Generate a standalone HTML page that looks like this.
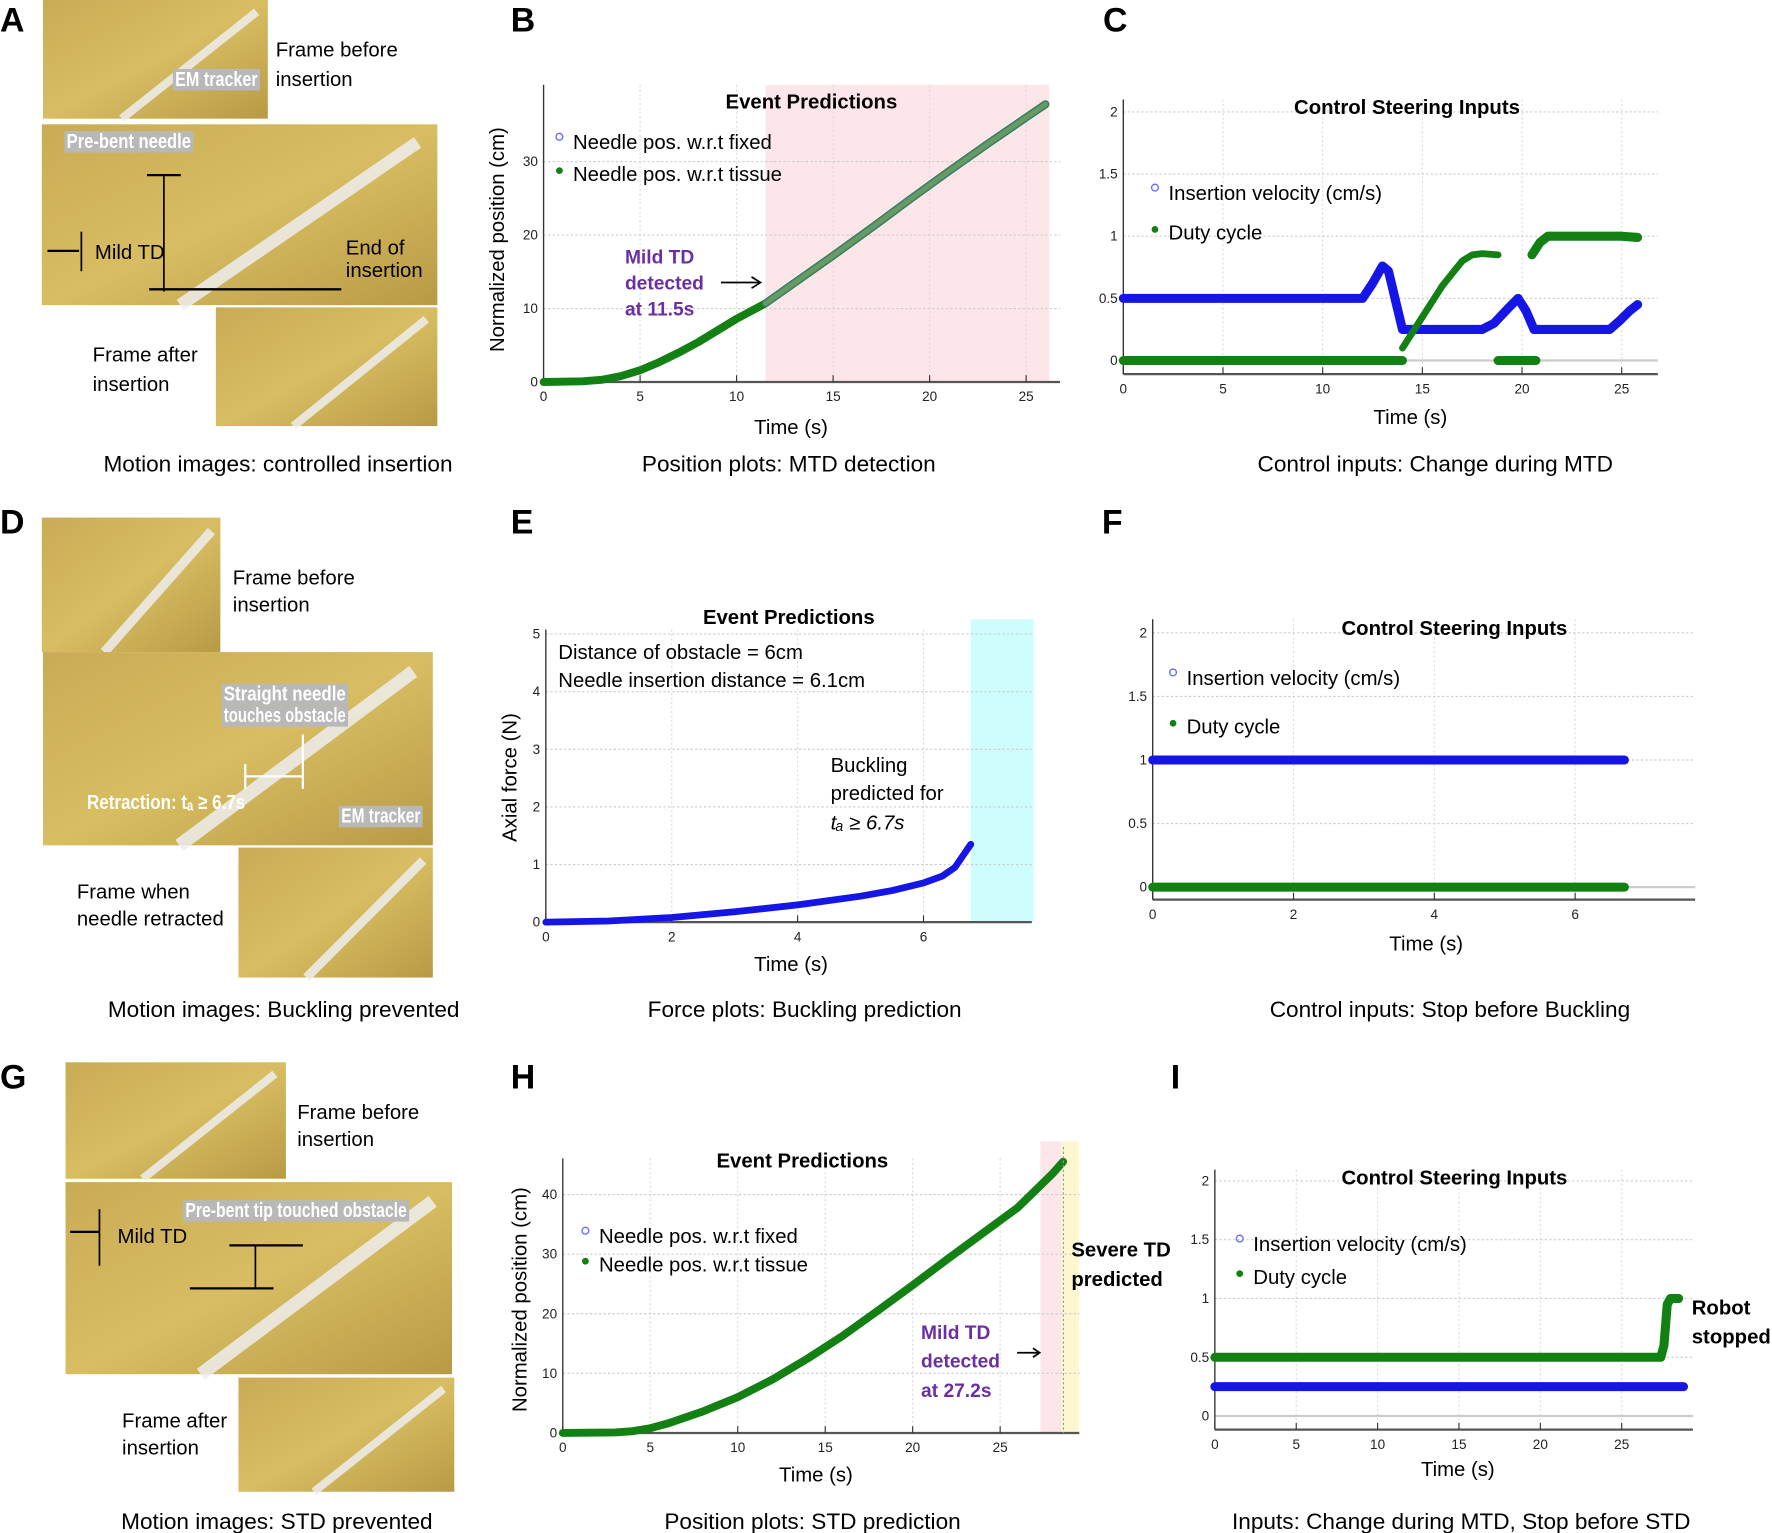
<!DOCTYPE html>
<html><head><meta charset="utf-8"><style>
html,body{margin:0;padding:0;background:#fff;}
svg{display:block;font-family:"Liberation Sans",sans-serif;}
.cap{font-size:20px;text-anchor:middle;}
.lbl{font-size:18px;}
.tick{font-size:12px;fill:#222;}
.ttl{font-size:18px;font-weight:bold;text-anchor:middle;}
.letter{font-size:30px;font-weight:bold;}
.pur{font-size:17px;font-weight:bold;fill:#6a2fa0;}
</style></head><body>
<svg id="fig" width="1772" height="1533" viewBox="0 0 1568 1356.5">
<defs>
<linearGradient id="ph" x1="0" y1="0" x2="1" y2="1">
<stop offset="0" stop-color="#c9ab55"/><stop offset="0.5" stop-color="#d8bd62"/><stop offset="1" stop-color="#b89a45"/></linearGradient>
</defs>
<g id="photos"></g>
<g id="charts"></g>
</svg>
<script>
// ---------- Data ----------
const bTime=[0,2,3,4,5,6,7,8,9,10,11,11.5,13,15,17,19,21,23,25,26];
const bPos=[0,0.1,0.3,0.8,1.6,2.7,4,5.4,7,8.6,10,10.7,13.5,17.2,21,24.9,28.7,32.4,36,37.8];
const cTimeV=[0,12,12.5,13,13.3,13.7,14,16,18,18.6,19.3,19.8,20.2,20.6,22,24.4,24.9,25.4,25.8];
const cVel=[0.5,0.5,0.62,0.76,0.72,0.45,0.25,0.25,0.25,0.3,0.42,0.5,0.4,0.25,0.25,0.25,0.32,0.4,0.45];
const cTimeD1=[0,14];const cDuty1=[0,0];
const cTimeD2=[14,15,16,17,17.5,18,18.8];const cDuty2=[0.1,0.35,0.6,0.8,0.85,0.86,0.85];
const cTimeD3=[18.8,20.7];const cDuty3=[0,0];
const cTimeD4=[20.5,20.9,21.3,23,25,25.8];const cDuty4=[0.85,0.95,1,1,1,0.99];
const eTime=[0,1,2,3,4,5,5.5,6,6.3,6.5,6.75];
const eForce=[0,0.02,0.08,0.18,0.3,0.45,0.55,0.68,0.8,0.95,1.35];
const fTime=[0,6.7];const fVel=[1,1];const fDuty=[0,0];
const hTime=[0,3,4,5,6,8,10,12,14,16,18,20,22,24,26,28,28.6];
const hPos=[0,0.1,0.3,0.8,1.6,3.6,6,9,12.5,16.3,20.5,24.8,29.2,33.5,37.8,43.5,45.5];
const iTime=[0,27.4,27.6,27.8,28,28.5];const iDuty=[0.5,0.5,0.6,0.95,1,1];
const iTimeV=[0,28.8];const iVel=[0.25,0.25];
const bTicksX=[0,5,10,15,20,25];const bTicksY=[0,10,20,30];
const cTicksX=[0,5,10,15,20,25];const cTicksY=[0,0.5,1,1.5,2];
const eTicksX=[0,2,4,6];const eTicksY=[0,1,2,3,4,5];
const fTicksX=[0,2,4,6];const fTicksY=[0,0.5,1,1.5,2];
const hTicksX=[0,5,10,15,20,25];const hTicksY=[0,10,20,30,40];
const iTicksX=[0,5,10,15,20,25];const iTicksY=[0,0.5,1,1.5,2];

const NS="http://www.w3.org/2000/svg";
const svg=document.getElementById('fig');
const photos=document.getElementById('photos');
const charts=document.getElementById('charts');
function mk(tag,attrs,parent,txt){const e=document.createElementNS(NS,tag);for(const k in attrs)e.setAttribute(k,attrs[k]);if(txt!==undefined)e.textContent=txt;(parent||svg).appendChild(e);return e;}
function text(x,y,s,cls,parent,extra){const e=mk('text',Object.assign({x:x,y:y,class:cls||'lbl'},extra||{}),parent,s);return e;}

// ---------- photos ----------
function photo(x,y,w,h,name){const r=mk('rect',{x:x,y:y,width:w,height:h,fill:'url(#ph)'},photos);


mk('line',{x1:x+w*0.35,y1:y+h,x2:x+w*0.95,y2:y+h*0.1,stroke:'#eee','stroke-width':Math.min(w,h)*0.07,opacity:0.85},photos);
return r;}
photo(38,0,199,105,'photo-a-before');photo(37,110,350,160,'photo-a-mid');photo(191,272,196,105,'photo-a-after');
photo(37,458,158,119,'photo-d-before');photo(38,577,345,171,'photo-d-mid');photo(211,750,172,115,'photo-d-after');
photo(58,940,195,103,'photo-g-before');photo(58,1046,342,170,'photo-g-mid');photo(211,1219,191,101,'photo-g-after');
function tag(x,y,w,s,name){const g=mk('g',{},photos);
mk('rect',{x:x,y:y,width:w,height:19,fill:'#b8b8b8'},g);text(x+2,y+15,s,'lbl',g,{fill:'#fff','font-size':13,'font-weight':'bold',textLength:w-4,lengthAdjust:'spacingAndGlyphs'});}
tag(153,61,77,'EM tracker','em-tracker-tag-a');tag(57,116,114,'Pre-bent needle','pre-bent-needle-tag');
tag(196,605,112,'Straight needle','straight-needle-tag');tag(196,624,112,'touches obstacle','touches-obstacle-tag');
tag(300,713,74,'EM tracker','em-tracker-tag-d');tag(162,1062,200,'Pre-bent tip touched obstacle','pre-bent-tip-tag');
mk('line',{x1:130,y1:155,x2:160,y2:155,stroke:'#000','stroke-width':2},photos);
mk('line',{x1:145,y1:155,x2:145,y2:258,stroke:'#000','stroke-width':1.5},photos);
mk('line',{x1:132,y1:256,x2:302,y2:256,stroke:'#000','stroke-width':2},photos);
mk('line',{x1:42,y1:222,x2:70,y2:222,stroke:'#000','stroke-width':2},photos);
mk('line',{x1:72,y1:205,x2:72,y2:240,stroke:'#000','stroke-width':1.5},photos);
text(84,229,'Mild TD','lbl',photos,{'font-size':15});
text(306,225,'End of','lbl',photos,{'font-size':15});text(306,245,'insertion','lbl',photos,{'font-size':15});
mk('line',{x1:217,y1:687,x2:268,y2:687,stroke:'#fff','stroke-width':2},photos);
mk('line',{x1:268,y1:650,x2:268,y2:698,stroke:'#fff','stroke-width':2},photos);
mk('line',{x1:217,y1:676,x2:217,y2:698,stroke:'#fff','stroke-width':2},photos);
text(77,716,'Retraction: tₐ ≥ 6.7s','lbl',photos,{fill:'#fff','font-size':14,'font-weight':'bold',textLength:140,lengthAdjust:'spacingAndGlyphs'});
mk('line',{x1:62,y1:1090,x2:88,y2:1090,stroke:'#000','stroke-width':2},photos);
mk('line',{x1:88,y1:1070,x2:88,y2:1120,stroke:'#000','stroke-width':1.5},photos);
text(104,1100,'Mild TD','lbl',photos,{'font-size':15});
mk('line',{x1:203,y1:1102,x2:268,y2:1102,stroke:'#000','stroke-width':2},photos);
mk('line',{x1:226,y1:1102,x2:226,y2:1140,stroke:'#000','stroke-width':1.5},photos);
mk('line',{x1:168,y1:1140,x2:242,y2:1140,stroke:'#000','stroke-width':2},photos);
[[244,50,'Frame before'],[244,76,'insertion'],[82,320,'Frame after'],[82,346,'insertion'],
 [206,517,'Frame before'],[206,541,'insertion'],[68,795,'Frame when'],[68,819,'needle retracted'],
 [263,990,'Frame before'],[263,1014,'insertion'],[108,1263,'Frame after'],[108,1287,'insertion']].forEach(a=>{
 text(a[0],a[1],a[2],'lbl',photos);});
[['A',0,28],['B',452,28],['C',976,28],['D',0,472],['E',452,472],['F',975,472],['G',0,963],['H',452,963],['I',1036,963]].forEach(a=>{
 const t=text(a[1],a[2],a[0],'letter');
 
 });
[[246,417,'Motion images: controlled insertion'],[698,417,'Position plots: MTD detection'],[1270,417,'Control inputs: Change during MTD'],
 [251,900,'Motion images: Buckling prevented'],[712,900,'Force plots: Buckling prediction'],[1283,900,'Control inputs: Stop before Buckling'],
 [245,1353,'Motion images: STD prevented'],[719,1353,'Position plots: STD prediction'],[1293,1353,'Inputs: Change during MTD,  Stop before STD']].forEach((a,i)=>{
 const t=text(a[0],a[1],a[2],'cap');
 
 });

function chart(o){
 const g=mk('g',{},charts);
 
 
 const sx=v=>o.x0+(v-o.xmin)*o.kx, sy=v=>o.y0-(v-o.ymin)*o.ky;
 o.bands.forEach(b=>mk('rect',{x:sx(b[0]),y:o.top-(b[3]||0),width:sx(b[1])-sx(b[0]),height:o.ybot-o.top+(b[3]||0),fill:b[2]},g));
 o.tx.forEach(v=>mk('line',{x1:sx(v),y1:o.top,x2:sx(v),y2:o.ybot,stroke:'#ddd','stroke-dasharray':'2,2'},g));
 o.ty.forEach(v=>mk('line',{x1:o.x0,y1:sy(v),x2:o.xr,y2:sy(v),stroke:'#ccc','stroke-dasharray':'2,2'},g));
 if(o.zeroLine) mk('line',{x1:o.x0,y1:sy(0),x2:o.xr,y2:sy(0),stroke:'#ccc','stroke-width':2},g);
 mk('line',{x1:o.x0,y1:o.top,x2:o.x0,y2:o.ybot,stroke:'#333','stroke-width':1.2},g);
 mk('line',{x1:o.x0,y1:o.ybot,x2:o.xr,y2:o.ybot,stroke:'#555','stroke-width':2},g);
 o.tx.forEach(v=>{mk('line',{x1:sx(v),y1:o.ybot,x2:sx(v),y2:o.ybot-6,stroke:'#333'},g);
  const t=text(sx(v),o.ybot+17,String(v),'tick',g,{'text-anchor':'middle'});
  
  });
 o.ty.forEach(v=>{const t=text(o.x0-5,sy(v)+4,String(v),'tick',g,{'text-anchor':'end'});
  
  });
 o.series.forEach(s=>{
  const pts=s.x.map((v,i)=>sx(v).toFixed(1)+','+sy(s.y[i]).toFixed(1)).join(' ');
  const p=mk('polyline',{points:pts,fill:'none',stroke:s.c,'stroke-width':s.w||8,'stroke-linecap':'round','stroke-linejoin':'round',opacity:s.op||1},g);
  
  
 });
 const tt=text(o.tix,o.tiy,o.title,'ttl',g);
 
 
 const xl=text(o.xlx,o.xly,'Time (s)','lbl',g,{'text-anchor':'middle'});
 
 
 if(o.ylab){const yl=text(0,0,o.ylab,'lbl',g,{'text-anchor':'middle',transform:'translate('+o.ylx+','+o.yly+') rotate(-90)'});
  
  }
 (o.legend||[]).forEach(l=>{
  const le=mk('g',{},g);
  
  
  if(l.hollow) mk('circle',{cx:l.x,cy:l.y-11,r:3,fill:'none',stroke:'#6a6aff','stroke-width':1.2},le);
  else mk('circle',{cx:l.x,cy:l.y-9,r:3,fill:'#138013'},le);
  text(l.x+12,l.y,l.t,'lbl',le,{'font-size':l.fs||19});
 });
 return {g,sx,sy};
}
const BLUE='#1515e6',GREEN='#138013';
chart({name:'chart-b',x0:481,xmin:0,kx:17.08,y0:338,ymin:0,ky:6.5,top:75,ybot:338,xr:938,
 tx:bTicksX,ty:bTicksY,bands:[[11.5,26.2,'#fde6ea',0]],
 series:[{x:bTime,y:bPos,c:GREEN,w:7,name:'needle-pos-tissue'},{x:bTime.slice(11),y:bPos.slice(11),c:'#6a7ee0',w:6,op:0.6,name:'needle-pos-fixed'},{x:bTime.slice(11),y:bPos.slice(11),c:'#6b9e5a',w:4,op:0.9,name:'needle-pos-tissue-overlap'}],
 title:'Event Predictions',tix:718,tiy:96,xlx:700,xly:384,ylab:'Normalized position (cm)',ylx:446,yly:212,
 legend:[{x:495,y:132,t:'Needle pos. w.r.t fixed',hollow:1},{x:495,y:160,t:'Needle pos. w.r.t tissue'}]});
text(553,233,'Mild TD','pur');text(553,256,'detected','pur');text(553,279,'at 11.5s','pur');
mk('path',{d:'M638 250 L673 250 M665 245 L673 250 L665 255',stroke:'#000','stroke-width':1.5,fill:'none'});
chart({name:'chart-c',x0:994,xmin:0,kx:17.64,y0:319,ymin:0,ky:110,top:88,ybot:331,xr:1467,zeroLine:1,
 tx:cTicksX,ty:cTicksY,bands:[],
 series:[{x:cTimeV,y:cVel,c:BLUE,w:8,name:'insertion-velocity'},{x:cTimeD1,y:cDuty1,c:GREEN,w:8,name:'duty-cycle-1'},{x:cTimeD2,y:cDuty2,c:GREEN,w:6,name:'duty-cycle-2'},{x:cTimeD3,y:cDuty3,c:GREEN,w:8,name:'duty-cycle-3'},{x:cTimeD4,y:cDuty4,c:GREEN,w:8,name:'duty-cycle-4'}],
 title:'Control Steering Inputs',tix:1245,tiy:101,xlx:1248,xly:375,
 legend:[{x:1022,y:177,t:'Insertion velocity (cm/s)',hollow:1},{x:1022,y:212,t:'Duty cycle'}]});
chart({name:'chart-e',x0:483,xmin:0,kx:55.7,y0:816,ymin:0,ky:51,top:557,ybot:816,xr:913,
 tx:eTicksX,ty:eTicksY,bands:[[6.75,7.75,'#cdfdfd',9]],
 series:[{x:eTime,y:eForce,c:BLUE,w:6,name:'axial-force'}],
 title:'Event Predictions',tix:698,tiy:552,xlx:700,xly:859,ylab:'Axial force (N)',ylx:457,yly:688});
text(494,583,'Distance of obstacle = 6cm');text(494,608,'Needle insertion distance = 6.1cm');
text(735,683,'Buckling');text(735,708,'predicted for');text(735,734,'tₐ ≥ 6.7s','lbl',null,{'font-style':'italic'});
chart({name:'chart-f',x0:1020,xmin:0,kx:62.3,y0:785,ymin:0,ky:112.5,top:548,ybot:796,xr:1500,zeroLine:1,
 tx:fTicksX,ty:fTicksY,bands:[],
 series:[{x:fTime,y:fVel,c:BLUE,w:8,name:'insertion-velocity'},{x:fTime,y:fDuty,c:GREEN,w:8,name:'duty-cycle'}],
 title:'Control Steering Inputs',tix:1287,tiy:562,xlx:1262,xly:841,
 legend:[{x:1038,y:606,t:'Insertion velocity (cm/s)',hollow:1,fs:21},{x:1038,y:649,t:'Duty cycle',fs:21}]});
chart({name:'chart-h',x0:498,xmin:0,kx:15.48,y0:1268,ymin:0,ky:5.275,top:1025,ybot:1268,xr:955,
 tx:hTicksX,ty:hTicksY,bands:[[27.3,28.5,'#fde6ea',15],[28.5,29.5,'#fdf7cf',15]],
 series:[{x:hTime,y:hPos,c:GREEN,w:7,name:'needle-pos-tissue'}],
 title:'Event Predictions',tix:710,tiy:1033,xlx:722,xly:1311,ylab:'Normalized position (cm)',ylx:466,yly:1150,
 legend:[{x:518,y:1100,t:'Needle pos. w.r.t fixed',hollow:1},{x:518,y:1125,t:'Needle pos. w.r.t tissue'}]});
mk('line',{x1:941,y1:1015,x2:941,y2:1268,stroke:'#999','stroke-dasharray':'2,2'});
text(815,1185,'Mild TD','pur');text(815,1210,'detected','pur');text(815,1236,'at 27.2s','pur');
mk('path',{d:'M900 1197 L920 1197 M914 1193 L920 1197 L914 1201',stroke:'#000','stroke-width':1.5,fill:'none'});
text(948,1112,'Severe TD','lbl',null,{'font-weight':'bold'});text(948,1138,'predicted','lbl',null,{'font-weight':'bold'});
chart({name:'chart-i',x0:1075,xmin:0,kx:14.4,y0:1253,ymin:0,ky:104,top:1035,ybot:1265,xr:1498,zeroLine:1,
 tx:iTicksX,ty:iTicksY,bands:[],
 series:[{x:iTime,y:iDuty,c:GREEN,w:8,name:'duty-cycle'},{x:iTimeV,y:iVel,c:BLUE,w:8,name:'insertion-velocity'}],
 title:'Control Steering Inputs',tix:1287,tiy:1048,xlx:1290,xly:1306,
 legend:[{x:1097,y:1107,t:'Insertion velocity (cm/s)',hollow:1},{x:1097,y:1136,t:'Duty cycle'}]});
text(1497,1163,'Robot','lbl',null,{'font-weight':'bold'});text(1497,1189,'stopped','lbl',null,{'font-weight':'bold'});
</script>
</body></html>
